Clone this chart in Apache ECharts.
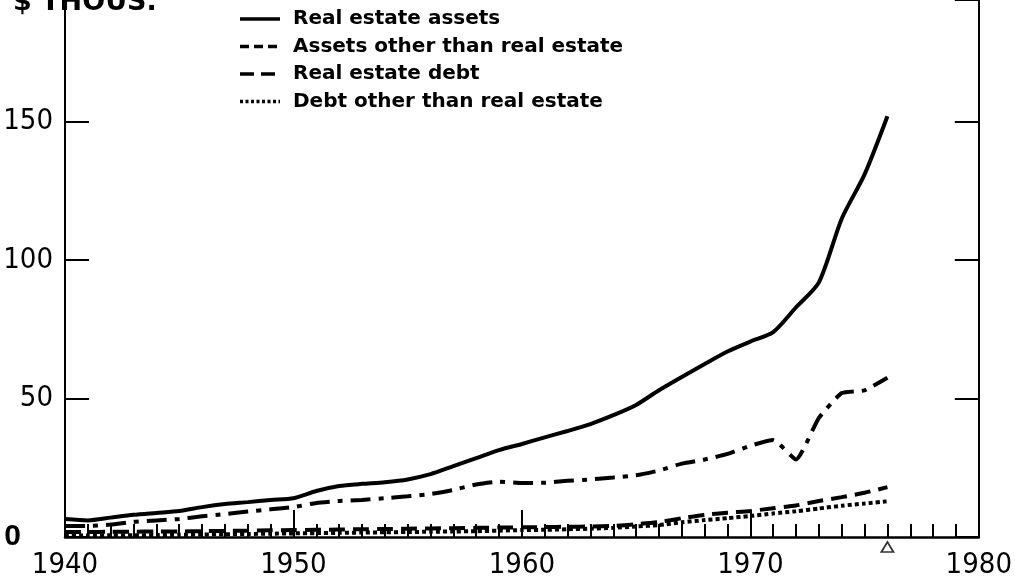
<!DOCTYPE html>
<html>
<head>
<meta charset="utf-8">
<script src="https://cdn.jsdelivr.net/npm/echarts@6/dist/echarts.min.js"></script>
<style>
html,body{margin:0;padding:0;background:#fff;}
#chart{width:1015px;height:586px;}
</style>
</head>
<body>
<div id="chart"></div>
<script>
const years = [1940,1941,1942,1943,1944,1945,1946,1947,1948,1949,1950,1951,1952,1953,1954,1955,1956,1957,1958,1959,1960,1961,1962,1963,1964,1965,1966,1967,1968,1969,1970,1971,1972,1973,1974,1975,1976];
const realEstateAssets = [6.5,6,7,8,8.7,9.4,10.8,11.9,12.6,13.4,14,16.6,18.4,19.2,19.8,20.8,22.7,25.6,28.5,31.4,33.6,36,38.3,40.8,44,47.7,53,57.8,62.5,67,70.6,74,83,92,115,131,152];
const otherAssets = [4,4,4.5,5.5,6,6.5,7.5,8.3,9.2,10,10.8,12.3,13,13.4,14,14.7,15.5,17,19,20,19.5,19.6,20.3,20.8,21.5,22.3,24,26.5,28,30,33,35,28,43,52,53,57.5];
const realEstateDebt = [1.8,1.8,1.9,1.9,2,2,2.1,2.2,2.3,2.4,2.5,2.6,2.7,2.8,2.9,3,3.1,3.2,3.3,3.4,3.5,3.6,3.7,3.8,4.0,4.6,5.4,6.8,8.0,8.8,9.4,10.4,11.4,13,14.4,16,18];
const otherDebt = [0.5,0.5,0.6,0.6,0.7,0.8,0.9,1.0,1.1,1.2,1.3,1.4,1.5,1.6,1.7,1.8,1.9,2.0,2.1,2.3,2.5,2.6,2.8,3.0,3.3,3.8,4.3,5.3,6.1,6.8,7.6,8.5,9.3,10.3,11.3,12.1,12.9];
const seriesNames = ['Real estate assets','Assets other than real estate','Real estate debt','Debt other than real estate'];
const yTicks = [0,50,100,150];
const xTicks = [1940,1950,1960,1970,1980];
const preliminaryYear = [1976];
const unitLabel = '$ THOUS.';

const pairs = arr => years.map((y,i)=>[y,arr[i]]);
const numFont = "'Liberation Sans Narrow','DejaVu Sans Condensed','Liberation Sans',sans-serif";
const boldFont = "'DejaVu Sans','Liberation Sans',sans-serif";

const dashTypes = ['solid',[20,8,5,8],[16,8],[4,3]];
const legendDash = [null,[9,5,9,5],[14,7],[3,2.5]];

const legendGraphics = [];
seriesNames.forEach((name,i)=>{
  const cy = 19 + i*27.5;
  legendGraphics.push({type:'line', z:10, shape:{x1:240,y1:cy,x2:280,y2:cy},
    style:{stroke:'#000', lineWidth:i===3?3.5:3.5, lineDash:legendDash[i]||null}});
  legendGraphics.push({type:'text', z:10, x:293, y:cy,
    style:{text:name, fontFamily:boldFont, fontWeight:'bold', fontSize:20, fill:'#000', verticalAlign:'middle', textVerticalAlign:'middle'}});
});

const chart = echarts.init(document.getElementById('chart'), null, {renderer:'canvas'});
const lineBase = {type:'line', symbol:'none', showSymbol:false, xAxisIndex:0, yAxisIndex:0, clip:true, z:3};
chart.setOption({
  animation:false,
  backgroundColor:'#fff',
  grid:{left:65, right:33, top:0, bottom:49, containLabel:false},
  graphic:[{
    type:'text', left:13, top:-11, z:10,
    style:{text:unitLabel, fontFamily:boldFont, fontWeight:'bold', fontSize:27, fill:'#000'}
  }].concat(legendGraphics),
  xAxis:{
    type:'value', min:1940, max:1980, interval:10,
    axisLine:{show:true, onZero:false, lineStyle:{color:'#000', width:2.5}},
    axisTick:{show:true, inside:true, length:27, lineStyle:{color:'#000', width:2}},
    minorTick:{show:true, splitNumber:10, length:13, lineStyle:{color:'#000', width:2}},
    splitLine:{show:false},
    axisLabel:{margin:14, color:'#000', fontFamily:numFont, fontSize:29, formatter:v=>xTicks.includes(v)?String(v):''}
  },
  yAxis:[{
    type:'value', min:0, max:194, interval:50, position:'left',
    axisLine:{show:true, lineStyle:{color:'#000', width:2}},
    axisTick:{show:true, inside:true, length:24, lineStyle:{color:'#000', width:2}},
    splitLine:{show:false},
    axisLabel:{margin:12, color:'#000', fontFamily:numFont, fontSize:29,
      showMaxLabel:false,
      formatter:v=>yTicks.includes(v)?(v===0?'{z|0}':String(v)):'',
      rich:{z:{fontFamily:"'Liberation Sans',sans-serif", fontWeight:'bold', fontSize:30, color:'#000', padding:[0,32,0,0]}}
    }
  },{
    type:'value', min:0, max:194, interval:50, position:'right',
    axisLine:{show:true, lineStyle:{color:'#000', width:2}},
    axisTick:{show:true, inside:true, length:24, lineStyle:{color:'#000', width:2}},
    splitLine:{show:false},
    axisLabel:{show:false}
  }],
  series:[
    Object.assign({}, lineBase, {name:seriesNames[0], data:pairs(realEstateAssets), smooth:0.25,
      lineStyle:{color:'#000', width:4, type:dashTypes[0]}}),
    Object.assign({}, lineBase, {name:seriesNames[1], data:pairs(otherAssets), smooth:0.15,
      lineStyle:{color:'#000', width:4, type:dashTypes[1]}}),
    Object.assign({}, lineBase, {name:seriesNames[2], data:pairs(realEstateDebt), smooth:0.2,
      lineStyle:{color:'#000', width:4, type:dashTypes[2]}}),
    Object.assign({}, lineBase, {name:seriesNames[3], data:pairs(otherDebt), smooth:0.2,
      lineStyle:{color:'#000', width:4, type:dashTypes[3]}}),
    {type:'scatter', name:'preliminary', data:preliminaryYear.map(y=>[y,0]), clip:false, z:5,
      symbol:'triangle', symbolSize:[12,10], symbolOffset:[0,10],
      itemStyle:{color:'#fff', borderColor:'#000', borderWidth:1.8}, silent:true}
  ]
});
</script>
</body>
</html>
